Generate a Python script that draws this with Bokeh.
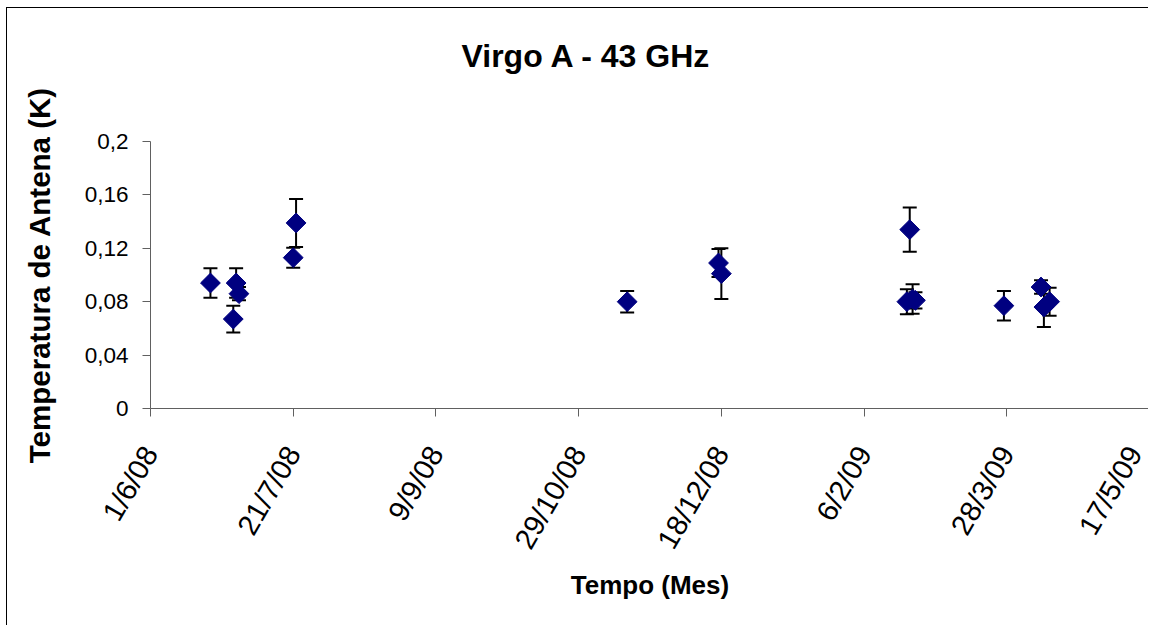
import pandas as pd
from bokeh.plotting import figure
from bokeh.models import ColumnDataSource, Whisker, TeeHead, FixedTicker, Title, Range1d
from bokeh.embed import file_html
from bokeh.resources import INLINE

# ---- data ----
dates = ["2008-06-22", "2008-06-30", "2008-07-01", "2008-07-02", "2008-07-21", "2008-07-22",
         "2008-11-15", "2008-12-17", "2008-12-18",
         "2009-02-21", "2009-02-22", "2009-02-23", "2009-02-24",
         "2009-03-27", "2009-04-09", "2009-04-10", "2009-04-12"]
temps = [0.094, 0.067, 0.094, 0.086, 0.113, 0.139,
         0.080, 0.109, 0.101,
         0.080, 0.134, 0.082, 0.081,
         0.077, 0.091, 0.076, 0.080]
errors = [0.011, 0.010, 0.011, 0.005, 0.0075, 0.018,
          0.008, 0.0105, 0.019,
          0.0094, 0.0165, 0.011, 0.006,
          0.011, 0.005, 0.015, 0.0105]

x_tick_dates = ["2008-06-01", "2008-07-21", "2008-09-09", "2008-10-29",
                "2008-12-18", "2009-02-06", "2009-03-28", "2009-05-17"]
x_tick_labels = ["1/6/08", "21/7/08", "9/9/08", "29/10/08",
                 "18/12/08", "6/2/09", "28/3/09", "17/5/09"]
y_ticks = [0, 0.04, 0.08, 0.12, 0.16, 0.2]
y_tick_labels = ["0", "0,04", "0,08", "0,12", "0,16", "0,2"]

title_text = "Virgo A - 43 GHz"
x_title = "Tempo (Mes)"
y_title = "Temperatura de Antena (K)"

FONT = "Liberation Sans"

# ---- build ----
x_dt = pd.to_datetime(dates)
lower = [t - e for t, e in zip(temps, errors)]
upper = [t + e for t, e in zip(temps, errors)]
src = ColumnDataSource(dict(x=x_dt, y=temps, lower=lower, upper=upper))

tick_ms = [int(v) for v in (pd.to_datetime(x_tick_dates).astype("int64") // 10**6)]

p = figure(width=1142, height=618, x_axis_type="datetime",
           x_range=Range1d(tick_ms[0], tick_ms[-1]), y_range=Range1d(y_ticks[0], y_ticks[-1]),
           output_backend="svg", toolbar_location=None,
           min_border_left=143, min_border_right=0, min_border_top=0, min_border_bottom=218)
p.styles = {"border-left": "1px solid black", "border-top": "1px solid black",
            "margin-left": "6px", "margin-top": "7px"}

# spacer between frame and title, main title, spacer above title
p.add_layout(Title(text=" ", text_font_size="45.5px", text_font=FONT), "above")
p.add_layout(Title(text=title_text, align="left", offset=311, text_font=FONT,
                   text_font_size="32px", text_font_style="bold", text_color="black"), "above")
p.add_layout(Title(text=" ", text_font_size="9px", text_font=FONT), "above")

p.xgrid.visible = False
p.ygrid.visible = False
p.outline_line_color = None
p.background_fill_color = "white"
p.border_fill_color = "white"

xa = p.xaxis[0]
xa.ticker = FixedTicker(ticks=tick_ms)
xa.major_label_overrides = {t: l for t, l in zip(tick_ms, x_tick_labels)}
xa.major_label_orientation = 1.0472
xa.major_label_text_font = FONT
xa.major_label_text_font_size = "29px"
xa.major_label_text_color = "black"
xa.major_label_standoff = 32
xa.axis_label = x_title
xa.axis_label_text_font = FONT
xa.axis_label_text_font_size = "26px"
xa.axis_label_text_font_style = "bold"
xa.axis_label_text_color = "black"
xa.axis_label_standoff = 5

ya = p.yaxis[0]
ya.ticker = FixedTicker(ticks=y_ticks)
ya.major_label_overrides = {t: l for t, l in zip(y_ticks, y_tick_labels)}
ya.major_label_text_font = FONT
ya.major_label_text_font_size = "22.5px"
ya.major_label_text_color = "black"
ya.major_label_standoff = 14
ya.axis_label = y_title
ya.axis_label_text_font = FONT
ya.axis_label_text_font_size = "29.5px"
ya.axis_label_text_font_style = "bold"
ya.axis_label_text_color = "black"
ya.axis_label_standoff = 26

for ax in (xa, ya):
    ax.axis_line_color = "#606060"
    ax.major_tick_line_color = "#606060"
    ax.major_tick_in = 0
    ax.major_tick_out = 8
    ax.minor_tick_line_color = None

w = Whisker(source=src, base="x", upper="upper", lower="lower", dimension="height",
            line_color="black", line_width=2,
            upper_head=TeeHead(size=14, line_color="black", line_width=2),
            lower_head=TeeHead(size=14, line_color="black", line_width=2))
p.add_layout(w)

p.scatter("x", "y", source=src, marker="square", size=14, angle=0.7854,
          fill_color="#000080", line_color="#000080")

open("out.html", "w").write(file_html(p, INLINE))
